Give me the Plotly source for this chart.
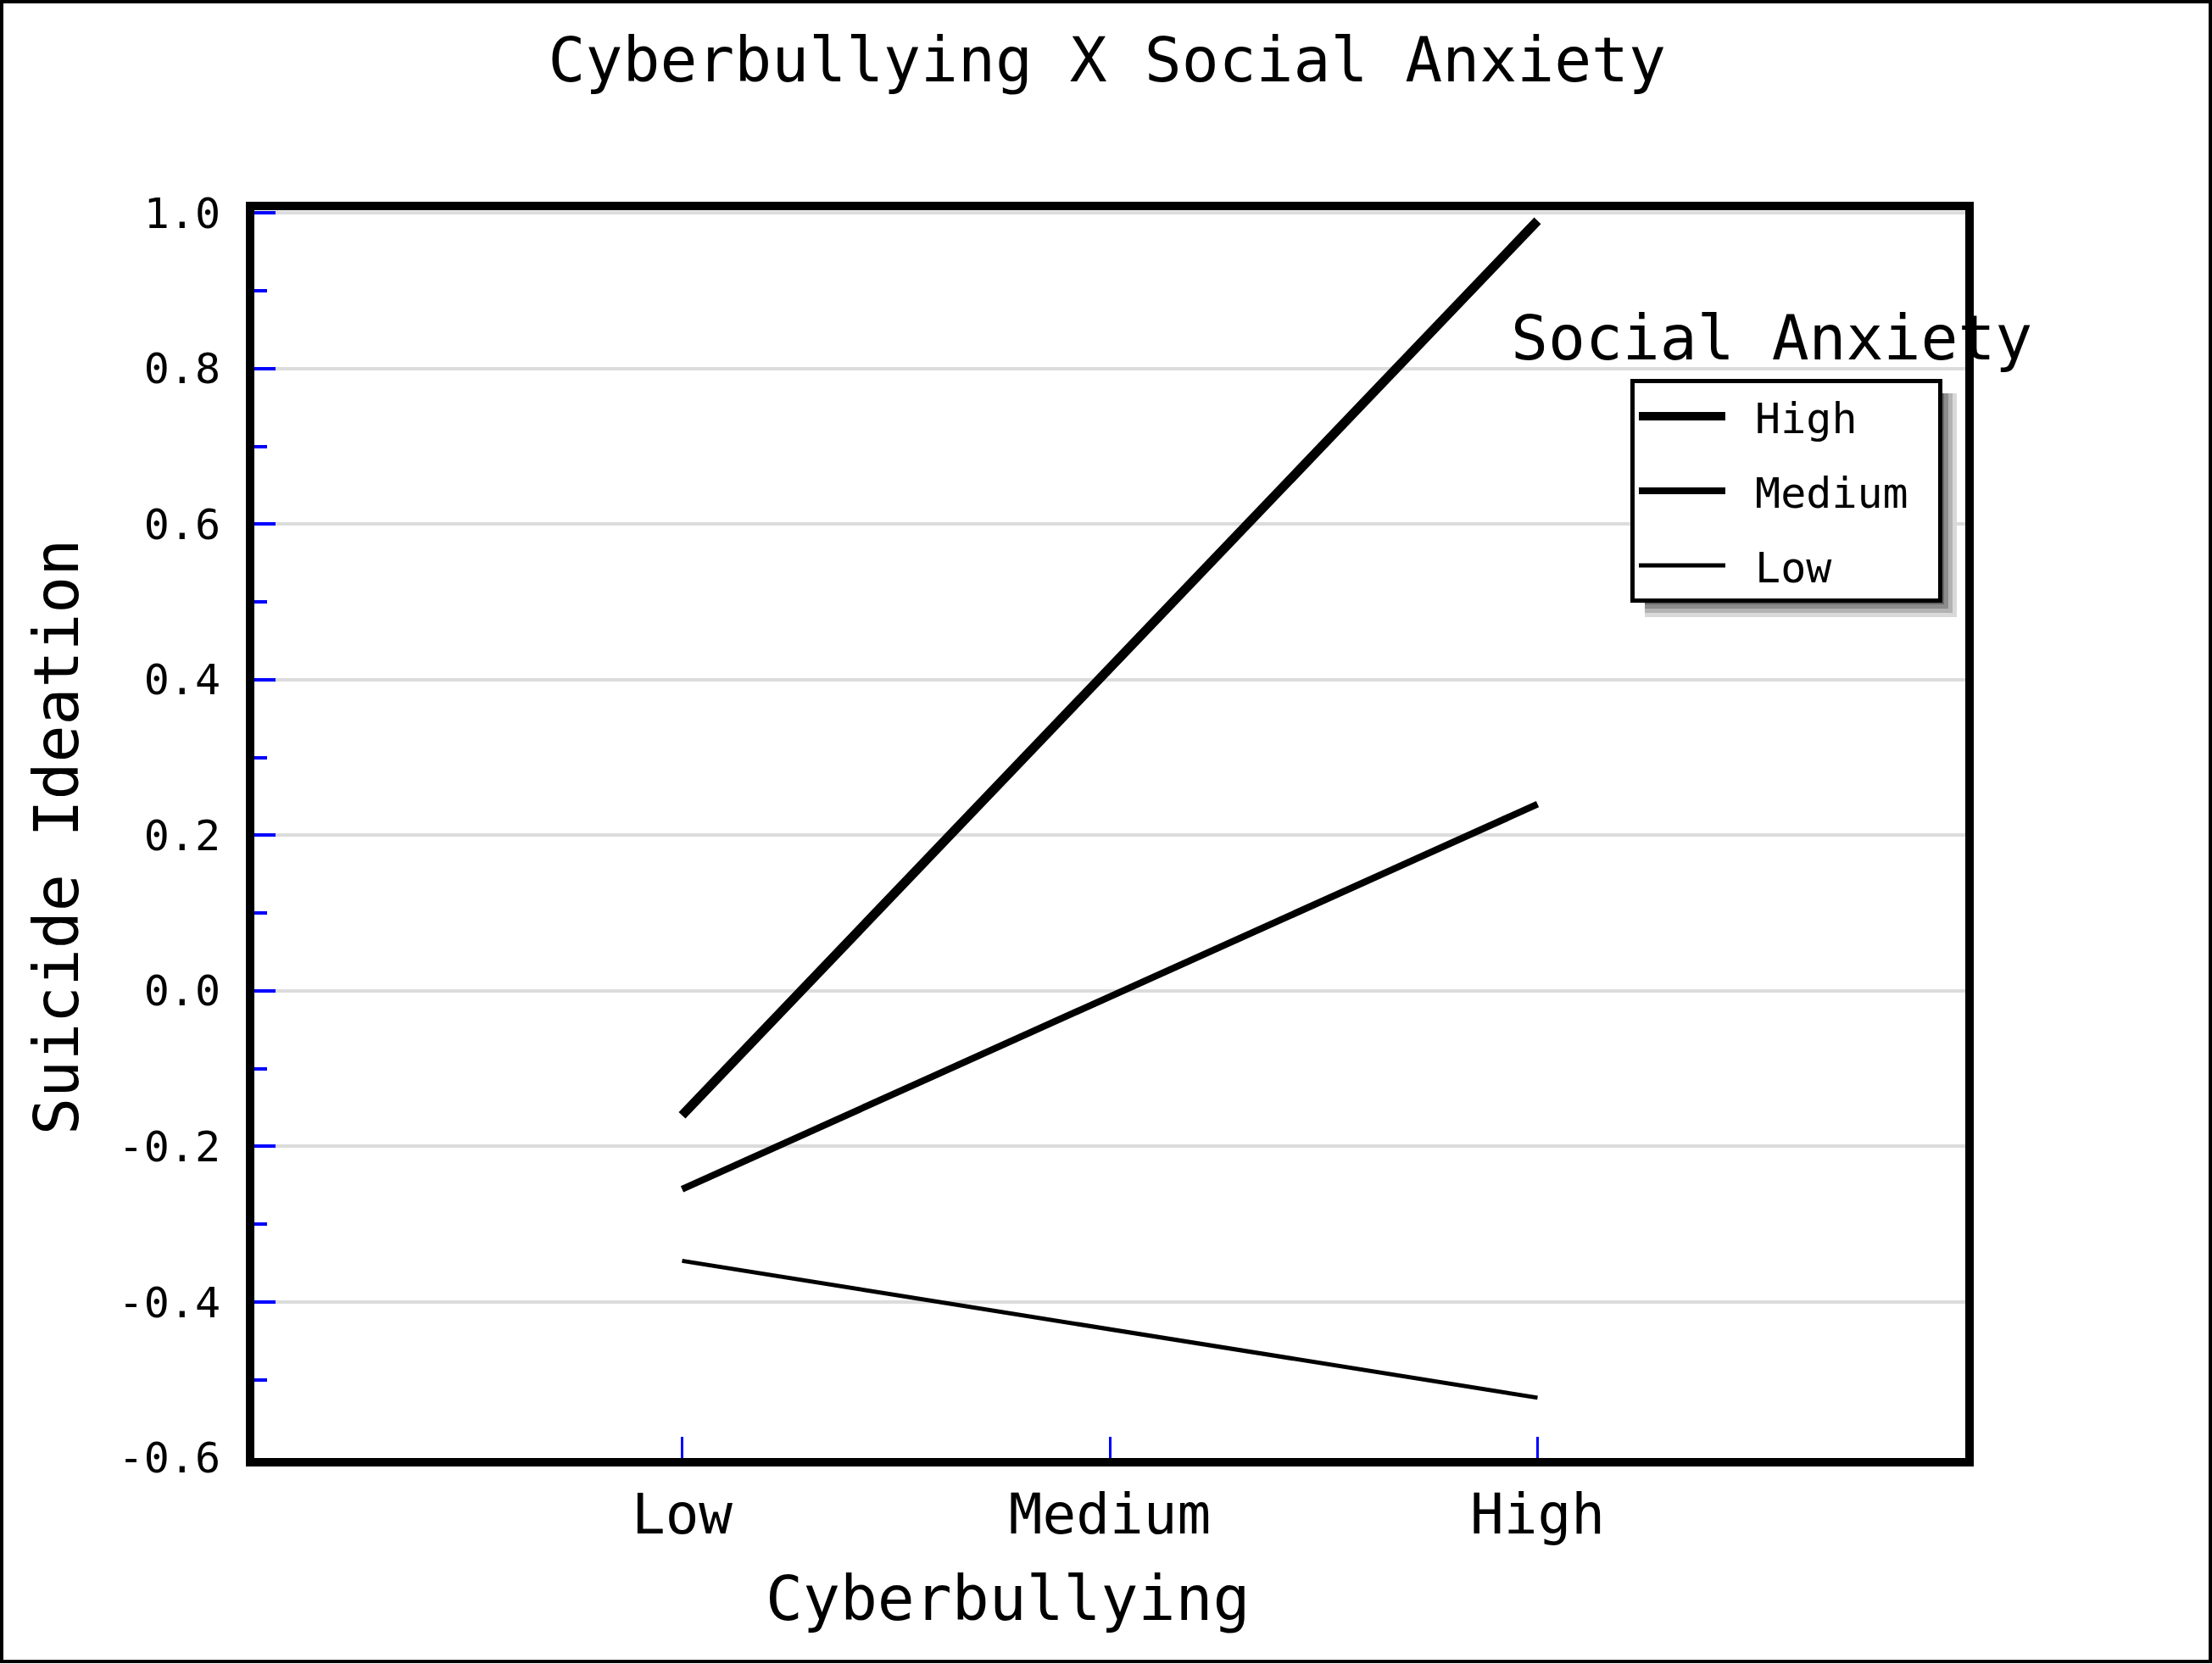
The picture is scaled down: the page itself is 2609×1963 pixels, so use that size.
import plotly.graph_objects as go

# ---- data ----
categories = ["Low", "Medium", "High"]
series_names = ["High", "Medium", "Low"]
high_sa = [-0.16, 0.415, 0.99]
medium_sa = [-0.255, -0.008, 0.24]
low_sa = [-0.347, -0.435, -0.523]
y_ticks = [-0.6, -0.4, -0.2, 0.0, 0.2, 0.4, 0.6, 0.8, 1.0]
y_tick_labels = ["-0.6", "-0.4", "-0.2", "0.0", "0.2", "0.4", "0.6", "0.8", "1.0"]

W, H = 2609, 1963
L, R, T, B = 300, 2318, 248, 1720
PW, PH = R - L, B - T


def px(x):
    return (x - L) / PW


def py(y):
    return 1 - (y - T) / PH


FONT = "DejaVu Sans Mono"
widths = [11, 8, 5]
values = [high_sa, medium_sa, low_sa]

fig = go.Figure()
for name, vals, w in zip(series_names, values, widths):
    fig.add_trace(go.Scatter(
        x=categories, y=vals, mode="lines", name="\u00a0" + name + "\u00a0",
        legendgroup=name,
        line=dict(color="black", width=w),
    ))

# legend box (outer edges, px) and its drop shadow
lx0, ly0, lx1, ly1 = 1923, 447, 2288, 708
shapes = []
for d, c in [(20, "#d9d9d9"), (15, "#b3b3b3"), (10, "#8c8c8c"), (5, "#666666")]:
    shapes.append(dict(type="rect", xref="paper", yref="paper",
                       x0=px(lx0 + 17), x1=px(lx1 + d), y0=py(ly1 + d), y1=py(ly0 + 17),
                       fillcolor=c, line=dict(width=0), layer="above"))
# outer border
shapes.append(dict(type="rect", xref="paper", yref="paper",
                   x0=px(2), x1=px(W - 2), y0=py(H - 3), y1=py(2),
                   line=dict(color="black", width=4), fillcolor="rgba(0,0,0,0)", layer="above"))

fig.update_layout(
    width=W, height=H,
    margin=dict(l=L, r=W - R, t=T, b=H - B),
    paper_bgcolor="white", plot_bgcolor="white",
    font=dict(family=FONT, color="black"),
    title=dict(text="Cyberbullying X Social Anxiety", x=px(1310), xanchor="center",
               y=1 - 70 / H, yanchor="middle", yref="container",
               font=dict(family=FONT, size=73, color="black")),
    xaxis=dict(type="category", range=[-1, 3], showgrid=False, zeroline=False,
               showline=True, linewidth=10, linecolor="black", mirror=True,
               ticks="inside", ticklen=25, tickwidth=3, tickcolor="blue",
               tickfont=dict(family=FONT, size=66, color="black"),
               ticklabelstandoff=0),
    yaxis=dict(range=[-0.6005, 1.0035], tickvals=y_ticks, ticktext=y_tick_labels,
               showgrid=True, gridcolor="#dcdcdc", gridwidth=4, zeroline=False,
               showline=True, linewidth=10, linecolor="black", mirror=True,
               ticks="inside", ticklen=25, tickwidth=4, tickcolor="blue",
               tickfont=dict(family=FONT, size=50, color="black"),
               ticklabelstandoff=20,
               minor=dict(dtick=0.1, tick0=0, ticks="inside", ticklen=15, tickwidth=4,
                          tickcolor="blue", showgrid=False)),
    showlegend=True,
    legend=dict(x=px(lx0), y=py(ly0), xanchor="left", yanchor="top",
                bgcolor="white", bordercolor="black", borderwidth=5,
                font=dict(family=FONT, size=50, color="black"),
                tracegroupgap=20, itemwidth=102, traceorder="grouped"),
    shapes=shapes,
    annotations=[
        dict(text="Social Anxiety", xref="paper", yref="paper", x=px(1780), y=py(399),
             xanchor="left", yanchor="middle", showarrow=False,
             font=dict(family=FONT, size=73, color="black")),
        dict(text="Cyberbullying", xref="paper", yref="paper", x=px(1188), y=py(1885),
             xanchor="center", yanchor="middle", showarrow=False,
             font=dict(family=FONT, size=73, color="black")),
        dict(text="Suicide Ideation", xref="paper", yref="paper", x=px(67), y=py(988),
             xanchor="center", yanchor="middle", showarrow=False, textangle=-90,
             font=dict(family=FONT, size=73, color="black")),
    ],
)

fig.write_html("out.html", config={"displayModeBar": False},
               post_script="document.body.style.margin='0';document.body.style.padding='0';")
